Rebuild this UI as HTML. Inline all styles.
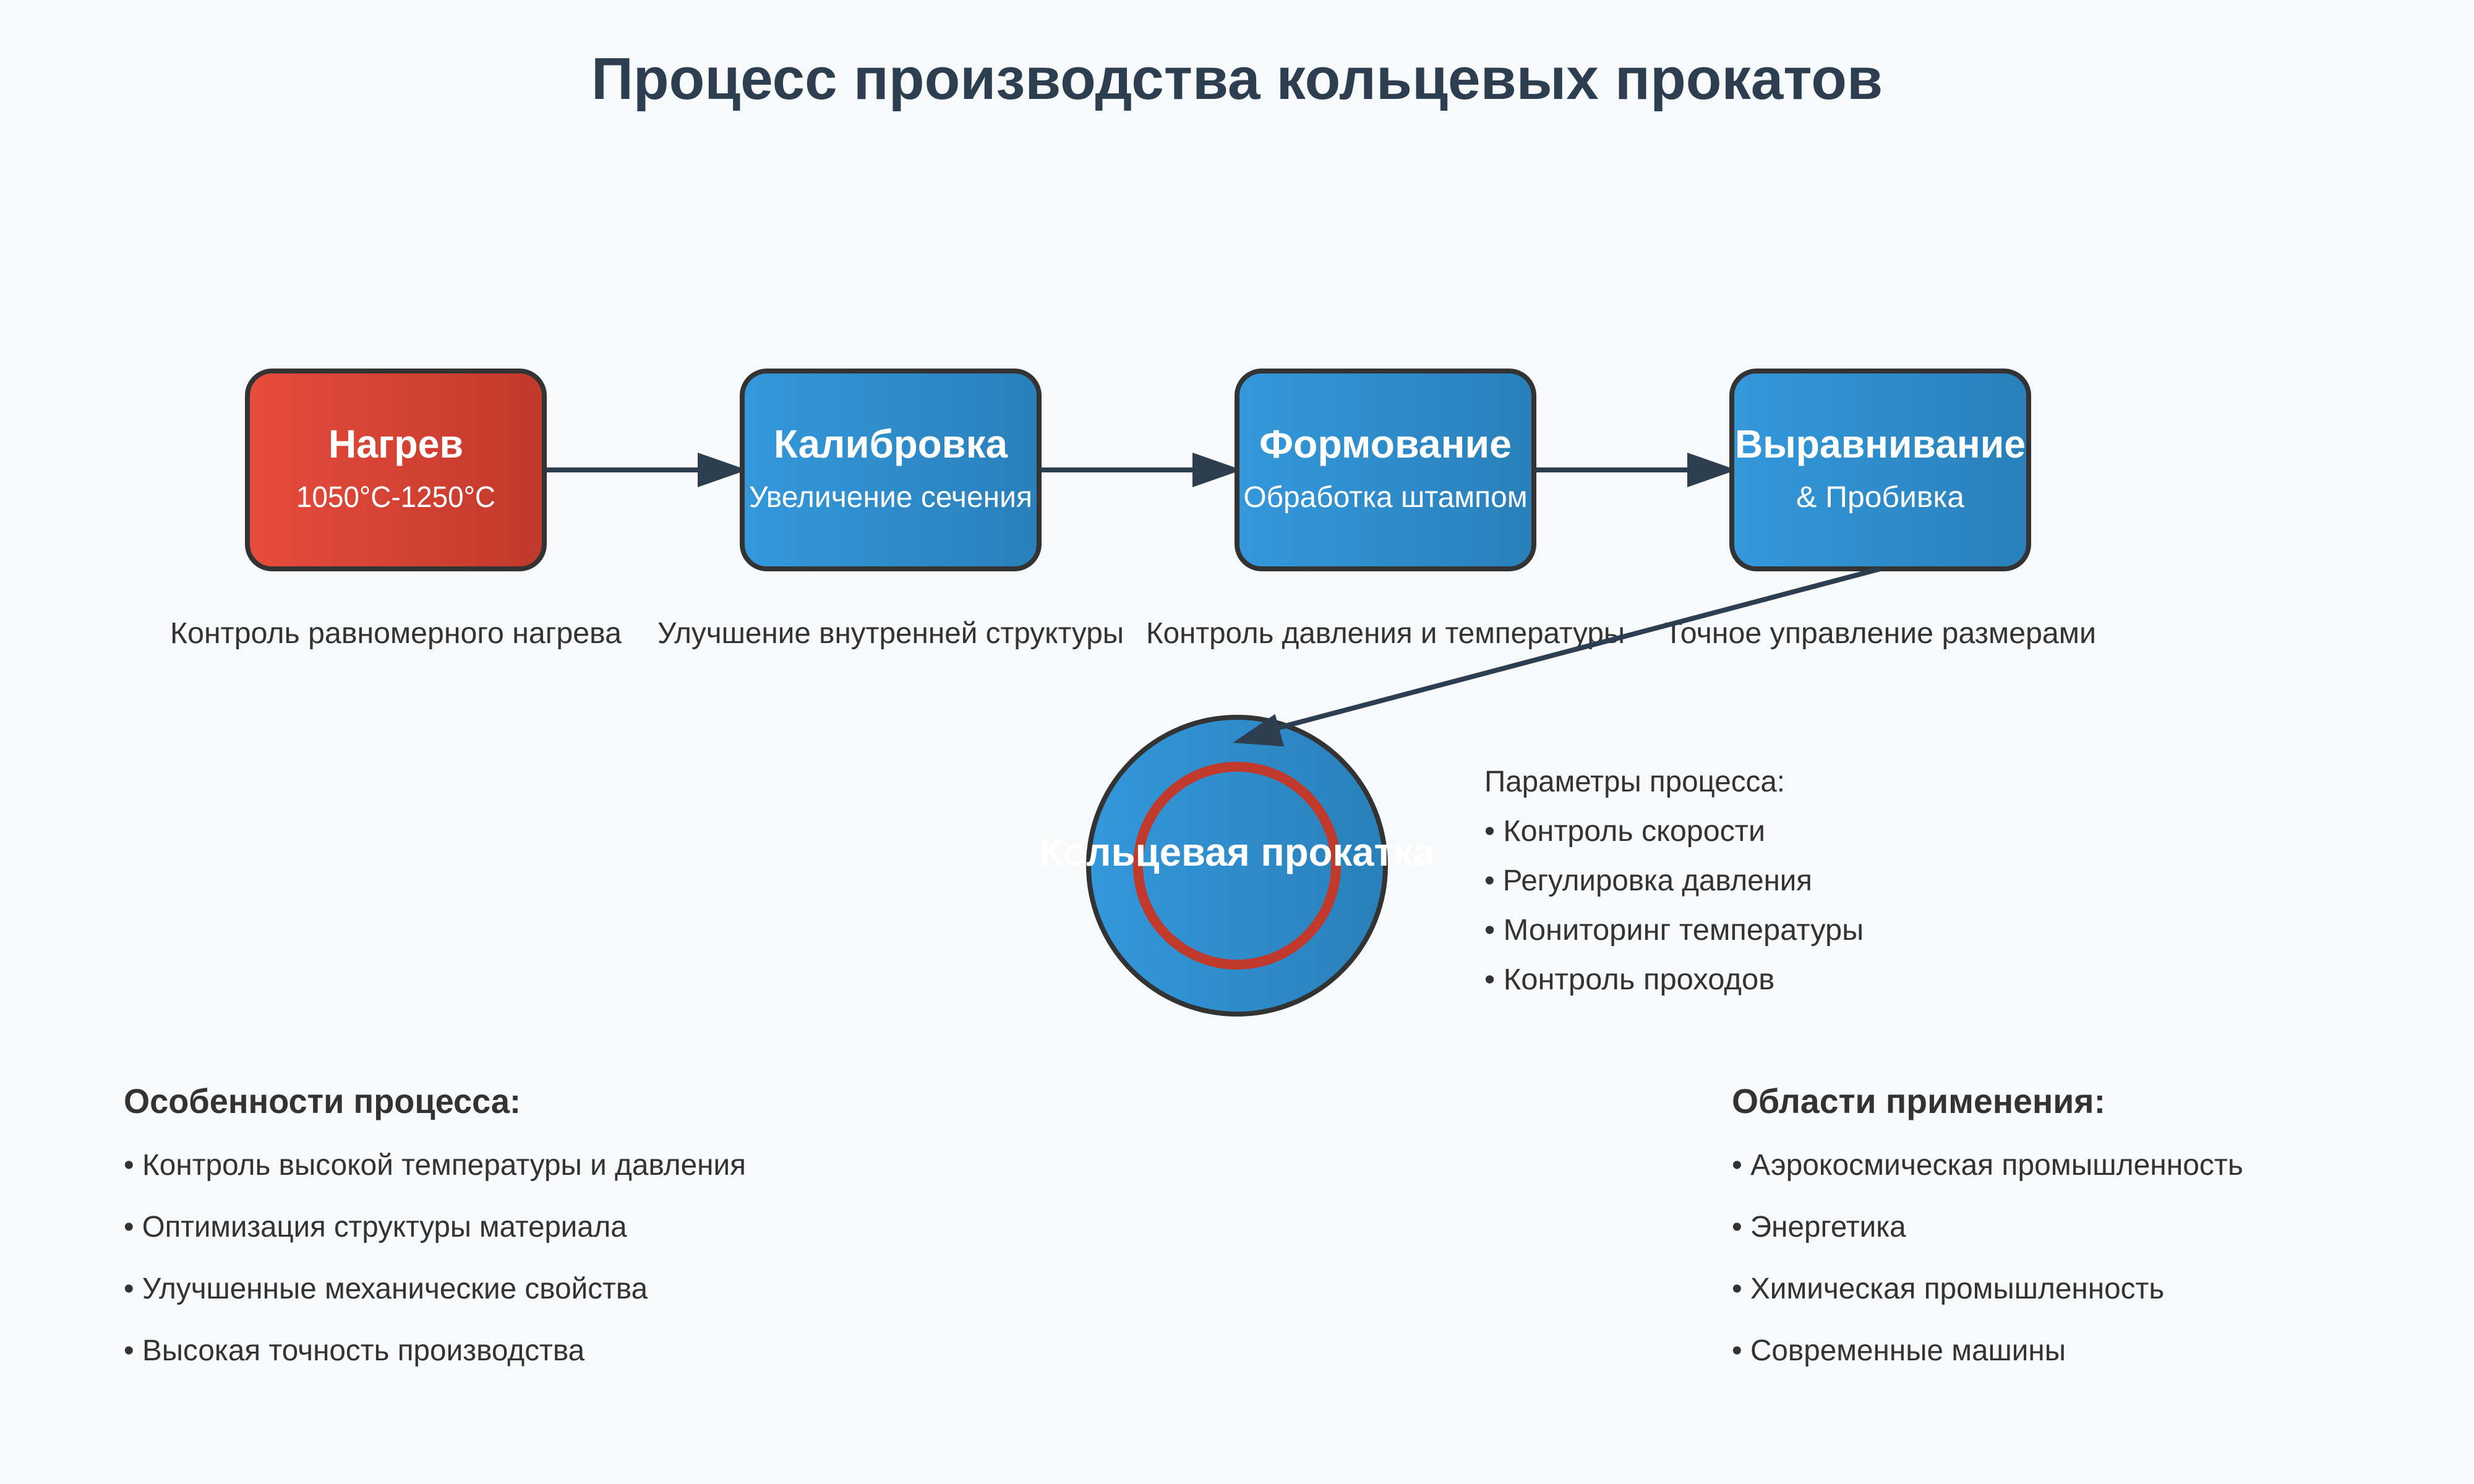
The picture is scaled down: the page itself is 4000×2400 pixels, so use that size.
<!DOCTYPE html>
<html>
<head>
<meta charset="utf-8">
<style>
  html, body { margin: 0; padding: 0; background: #f8f9fa; }
  svg { display: block; }
  text { font-family: "Liberation Sans", "DejaVu Sans", sans-serif; }
</style>
</head>
<body>
<svg width="4000" height="2400" viewBox="0 0 1000 600" xmlns="http://www.w3.org/2000/svg">
  <defs>
    <linearGradient id="red" x1="0" y1="0" x2="1" y2="0">
      <stop offset="0" stop-color="#e74c3c"/>
      <stop offset="1" stop-color="#c0392b"/>
    </linearGradient>
    <linearGradient id="blue" x1="0" y1="0" x2="1" y2="0">
      <stop offset="0" stop-color="#3498db"/>
      <stop offset="1" stop-color="#2980b9"/>
    </linearGradient>
  </defs>

  <rect x="0" y="0" width="1000" height="600" fill="#f8f9fa"/>

  <!-- Title -->
  <text x="500" y="40" text-anchor="middle" font-size="24" font-weight="bold" fill="#2c3e50" textLength="522" lengthAdjust="spacingAndGlyphs">Процесс производства кольцевых прокатов</text>

  <!-- Connectors -->
  <g stroke="#2c3e50" stroke-width="2">
    <line x1="220" y1="190" x2="284" y2="190"/>
    <line x1="420" y1="190" x2="484" y2="190"/>
    <line x1="620" y1="190" x2="684" y2="190"/>
  </g>
  <g fill="#2c3e50">
    <polygon points="282,183 302,190 282,197"/>
    <polygon points="482,183 502,190 482,197"/>
    <polygon points="682,183 702,190 682,197"/>
  </g>

  <!-- Boxes -->
  <rect x="100" y="150" width="120" height="80" rx="10" ry="10" fill="url(#red)" stroke="#333" stroke-width="2"/>
  <rect x="300" y="150" width="120" height="80" rx="10" ry="10" fill="url(#blue)" stroke="#333" stroke-width="2"/>
  <rect x="500" y="150" width="120" height="80" rx="10" ry="10" fill="url(#blue)" stroke="#333" stroke-width="2"/>
  <rect x="700" y="150" width="120" height="80" rx="10" ry="10" fill="url(#blue)" stroke="#333" stroke-width="2"/>

  <g fill="#ffffff" text-anchor="middle">
    <text x="160" y="185" font-size="16" font-weight="bold" textLength="54.5" lengthAdjust="spacingAndGlyphs">Нагрев</text>
    <text x="160" y="205" font-size="12" textLength="80.5" lengthAdjust="spacingAndGlyphs">1050°C-1250°C</text>
    <text x="360" y="185" font-size="16" font-weight="bold" textLength="94.5" lengthAdjust="spacingAndGlyphs">Калибровка</text>
    <text x="360" y="205" font-size="12" textLength="114.5" lengthAdjust="spacingAndGlyphs">Увеличение сечения</text>
    <text x="560" y="185" font-size="16" font-weight="bold" textLength="102" lengthAdjust="spacingAndGlyphs">Формование</text>
    <text x="560" y="205" font-size="12" textLength="114.8" lengthAdjust="spacingAndGlyphs">Обработка штампом</text>
    <text x="760" y="185" font-size="16" font-weight="bold" textLength="117.5" lengthAdjust="spacingAndGlyphs">Выравнивание</text>
    <text x="760" y="205" font-size="12" textLength="68" lengthAdjust="spacingAndGlyphs">&amp; Пробивка</text>
  </g>

  <!-- Labels under boxes -->
  <g fill="#333" text-anchor="middle" font-size="12">
    <text x="160" y="260" textLength="182.5" lengthAdjust="spacingAndGlyphs">Контроль равномерного нагрева</text>
    <text x="360" y="260" textLength="188.5" lengthAdjust="spacingAndGlyphs">Улучшение внутренней структуры</text>
    <text x="560" y="260" textLength="193.5" lengthAdjust="spacingAndGlyphs">Контроль давления и температуры</text>
    <text x="760" y="260" textLength="174.5" lengthAdjust="spacingAndGlyphs">Точное управление размерами</text>
  </g>

  <!-- Ring rolling circle -->
  <circle cx="500" cy="350" r="60" fill="url(#blue)" stroke="#333" stroke-width="2"/>
  <circle cx="500" cy="350" r="40" fill="none" stroke="#c0392b" stroke-width="4"/>
  <text x="500" y="350" text-anchor="middle" font-size="16" font-weight="bold" fill="#ffffff" textLength="160" lengthAdjust="spacingAndGlyphs">Кольцевая прокатка</text>

  <!-- Diagonal connector -->
  <line x1="760" y1="230" x2="512" y2="295.5" stroke="#2c3e50" stroke-width="2"/>
  <polygon points="515.4,288.7 498.3,300.3 519,301.8" fill="#2c3e50"/>

  <!-- Process parameters -->
  <g fill="#333" font-size="12">
    <text x="600" y="320" textLength="121.5" lengthAdjust="spacingAndGlyphs">Параметры процесса:</text>
    <text x="600" y="340" textLength="113.5" lengthAdjust="spacingAndGlyphs">• Контроль скорости</text>
    <text x="600" y="360" textLength="132.5" lengthAdjust="spacingAndGlyphs">• Регулировка давления</text>
    <text x="600" y="380" textLength="153.3" lengthAdjust="spacingAndGlyphs">• Мониторинг температуры</text>
    <text x="600" y="400" textLength="117.3" lengthAdjust="spacingAndGlyphs">• Контроль проходов</text>
  </g>

  <!-- Features -->
  <g fill="#333">
    <text x="50" y="450" font-size="14" font-weight="bold" textLength="160.5" lengthAdjust="spacingAndGlyphs">Особенности процесса:</text>
    <text x="50" y="475" font-size="12" textLength="251.5" lengthAdjust="spacingAndGlyphs">• Контроль высокой температуры и давления</text>
    <text x="50" y="500" font-size="12" textLength="203.4" lengthAdjust="spacingAndGlyphs">• Оптимизация структуры материала</text>
    <text x="50" y="525" font-size="12" textLength="211.8" lengthAdjust="spacingAndGlyphs">• Улучшенные механические свойства</text>
    <text x="50" y="550" font-size="12" textLength="186.3" lengthAdjust="spacingAndGlyphs">• Высокая точность производства</text>
  </g>

  <!-- Applications -->
  <g fill="#333">
    <text x="700" y="450" font-size="14" font-weight="bold" textLength="151" lengthAdjust="spacingAndGlyphs">Области применения:</text>
    <text x="700" y="475" font-size="12" textLength="206.7" lengthAdjust="spacingAndGlyphs">• Аэрокосмическая промышленность</text>
    <text x="700" y="500" font-size="12" textLength="70.4" lengthAdjust="spacingAndGlyphs">• Энергетика</text>
    <text x="700" y="525" font-size="12" textLength="174.8" lengthAdjust="spacingAndGlyphs">• Химическая промышленность</text>
    <text x="700" y="550" font-size="12" textLength="135" lengthAdjust="spacingAndGlyphs">• Современные машины</text>
  </g>
</svg>
</body>
</html>
